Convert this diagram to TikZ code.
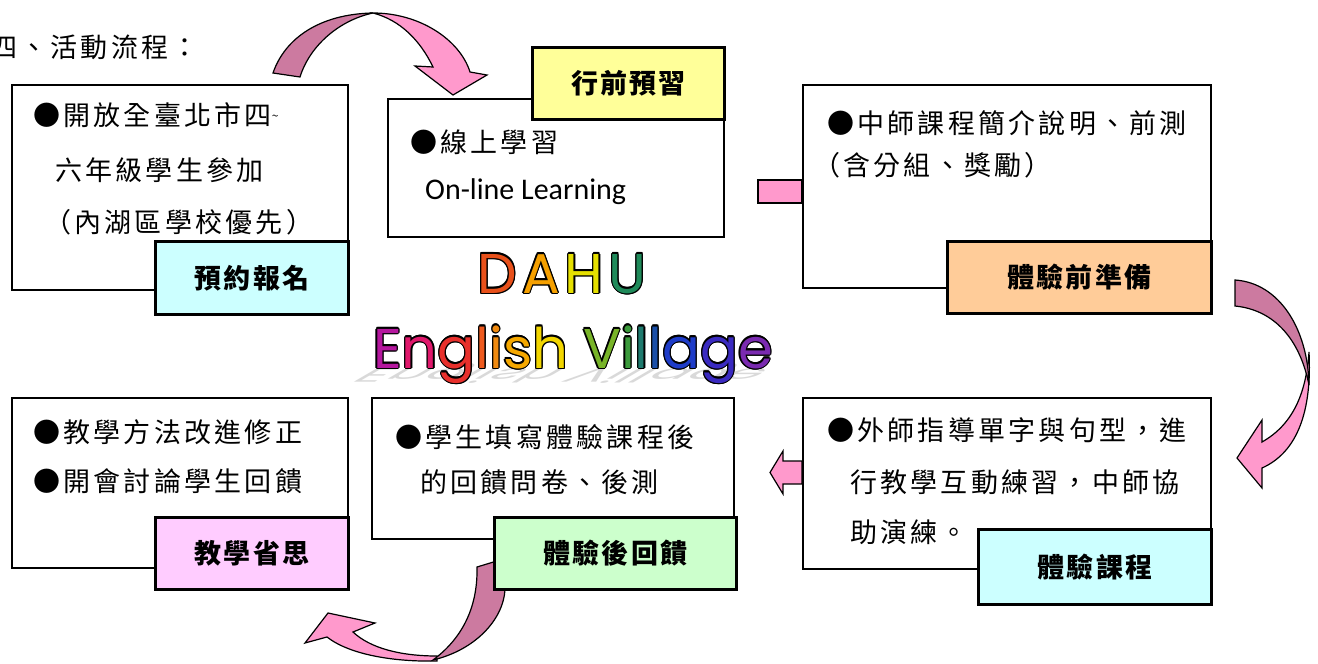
\documentclass[tikz,border=0pt]{standalone}
\usepackage{fontspec}
\newfontfamily\cjk[LetterSpace=12]{Noto Sans CJK TC}
\newfontfamily\cjkl[LetterSpace=8]{Noto Sans CJK TC}
\newfontfamily\carl{Carlito}
\newfontfamily\logofont{Poppins}
\definecolor{darkpink}{HTML}{CC7AA0}
\definecolor{lightpink}{HTML}{FF99CC}
\definecolor{labcyan}{HTML}{CCFFFF}
\definecolor{labyellow}{HTML}{FFFF99}
\definecolor{laborange}{HTML}{FFCC99}
\definecolor{labgreen}{HTML}{CCFFCC}
\definecolor{labmagenta}{HTML}{FFCCFF}
\definecolor{cD}{HTML}{E8501A}
\definecolor{cA}{HTML}{F5A000}
\definecolor{cH}{HTML}{E6E000}
\definecolor{cU}{HTML}{1F8A5A}
\definecolor{e1}{HTML}{B5179E}
\definecolor{e2}{HTML}{E0186C}
\definecolor{e3}{HTML}{E8302C}
\definecolor{e4}{HTML}{EE5A1E}
\definecolor{e5}{HTML}{F08A10}
\definecolor{e6}{HTML}{F5A800}
\definecolor{e7}{HTML}{F2D600}
\definecolor{v1}{HTML}{78B428}
\definecolor{v2}{HTML}{3C9A3C}
\definecolor{v3}{HTML}{1E7A6E}
\definecolor{v4}{HTML}{1A4FA8}
\definecolor{v5}{HTML}{1E3CC8}
\definecolor{v6}{HTML}{3A2AC0}
\definecolor{v7}{HTML}{7A2AB0}
\newif\ifoutl
\newcommand\logoch[2]{\ifoutl#2\else\textcolor{#1}{#2}\fi}
\newcommand\dahutext{\logoch{cD}{D}\hspace{5pt}\logoch{cA}{A}\hspace{5pt}\logoch{cH}{H}\hspace{5pt}\logoch{cU}{U}}
\newcommand\villtext{\logoch{e1}{E}\logoch{e2}{n}\logoch{e3}{g}\logoch{e4}{l}\logoch{e5}{i}\logoch{e6}{s}\logoch{e7}{h} \logoch{v1}{V}\logoch{v2}{i}\logoch{v3}{l}\logoch{v4}{l}\logoch{v5}{a}\logoch{v6}{g}\logoch{v7}{e}}
\begin{document}
\begin{tikzpicture}[x=1pt,y=-1pt,
  box/.style={draw=black, line width=1.6pt, fill=white, inner sep=0pt, anchor=north west},
  lab/.style={draw=black, line width=3pt, inner sep=0pt, anchor=north west, font=\cjkl\bfseries\fontsize{27}{27}\selectfont},
  txt/.style={anchor=base west, inner sep=0pt, font=\cjk\fontsize{27}{27}\selectfont},
  arrdark/.style={fill=darkpink, draw=black, line width=1.2pt, line join=miter},
  arrlight/.style={fill=lightpink, draw=black, line width=1.2pt, line join=miter},
  logo/.style={anchor=base, inner sep=0pt, font=\logofont\fontsize{56}{56}\selectfont}]
\useasboundingbox (0,0) rectangle (1318,664);
\fill[white] (0,0) rectangle (1318,664);

% curved arrows (behind boxes)
\draw[arrlight] (373,13) .. controls (420,13) and (460,40) .. (470,72) -- (487,75) -- (453,95) -- (415,66) -- (433,67) .. controls (420,40) and (400,20) .. (373,13) -- cycle;
\draw[arrdark] (273,73) .. controls (285,38) and (320,14) .. (373,13) .. controls (340,20) and (310,45) .. (300,77) -- cycle;

\draw[arrlight] (1309,352) .. controls (1312,410) and (1298,452) .. (1262,468) -- (1262,488) -- (1237,458) -- (1262,420) -- (1262,442) .. controls (1292,425) and (1306,395) .. (1309,352) -- cycle;
\draw[arrdark] (1235,280) .. controls (1280,283) and (1308,330) .. (1309,385) .. controls (1300,340) and (1275,310) .. (1235,306) -- cycle;

\draw[arrlight] (437,661) .. controls (395,662) and (350,655) .. (327,637) -- (305,643) -- (328,613) -- (375,623) -- (353,632) .. controls (370,648) and (400,656) .. (437,656) -- cycle;
\draw[arrdark] (477,567) -- (500,560) -- (505,590) .. controls (503,620) and (475,650) .. (433,660) .. controls (460,640) and (478,610) .. (477,567) -- cycle;

% straight block arrows
\draw[arrlight] (758,180) rectangle (802,203);
\draw[arrlight] (802,461) -- (783,461) -- (783,451) -- (770,472.5) -- (783,494) -- (783,484) -- (802,484) -- cycle;

% title
\node[txt] (title) at (-10,57) {四、活動流程：};

% boxes
\node[box, minimum width=336pt, minimum height=205pt] (b1) at (11,84) {};
\node[box, minimum width=336pt, minimum height=138pt] (b2) at (387,98) {};
\node[box, minimum width=408pt, minimum height=203pt] (b3) at (802,84) {};
\node[box, minimum width=408pt, minimum height=171pt] (b4) at (802,397) {};
\node[box, minimum width=362pt, minimum height=141pt] (b5) at (371,397) {};
\node[box, minimum width=336pt, minimum height=170pt] (b6) at (11,397) {};

% labels
\node[lab, fill=labcyan, minimum width=193pt, minimum height=73pt] (l1) at (154,240) {預約報名};
\node[lab, fill=labyellow, minimum width=192pt, minimum height=72pt] (l2) at (531,46) {行前預習};
\node[lab, fill=laborange, minimum width=264pt, minimum height=72pt] (l3) at (946,240) {體驗前準備};
\node[lab, fill=labcyan, minimum width=233pt, minimum height=75pt] (l4) at (977,528) {體驗課程};
\node[lab, fill=labgreen, minimum width=242pt, minimum height=72pt] (l5) at (493,516) {體驗後回饋};
\node[lab, fill=labmagenta, minimum width=193pt, minimum height=72pt] (l6) at (154,516) {教學省思};

% texts
\node[txt] (t1a) at (33,125) {●開放全臺北市四\raisebox{5pt}{\fontsize{12}{12}\selectfont\textasciitilde}};
\node[txt] (t1b) at (55,180) {六年級學生參加};
\node[txt] (t1c) at (44,232) {（內湖區學校優先）};
\node[txt] (t2a) at (410,152) {●線上學習};
\node[anchor=base west, inner sep=0pt, font=\carl\fontsize{30}{30}\selectfont] (t2b) at (425,199) {On-line Learning};
\node[txt] (t3a) at (827,133) {●中師課程簡介說明、前測};
\node[txt] (t3b) at (813,175) {（含分組、獎勵）};
\node[txt] (t4a) at (827,440) {●外師指導單字與句型，進};
\node[txt] (t4b) at (850,492) {行教學互動練習，中師協};
\node[txt] (t4c) at (850,542) {助演練。};
\node[txt] (t5a) at (395,447) {●學生填寫體驗課程後};
\node[txt] (t5b) at (420,492) {的回饋問卷、後測};
\node[txt] (t6a) at (33,442) {●教學方法改進修正};
\node[txt] (t6b) at (33,491) {●開會討論學生回饋};

% logo
\begin{scope}[shift={(573,368)}, yscale=-0.35, xslant=-0.6]
\node[logo, transform shape, text=gray!30] (shadow) at (0,0) {\outltrue\villtext};
\end{scope}
\foreach \a in {0,30,...,330} {
  \node[logo, text=black, shift={(\a:1.2pt)}] (dahuo\a) at (562,293) {\outltrue\dahutext};
  \node[logo, text=black, shift={(\a:1.2pt)}] (villo\a) at (573,368) {\outltrue\villtext};
}
\node[logo] (dahu) at (562,293) {\dahutext};
\node[logo] (vill) at (573,368) {\villtext};
\end{tikzpicture}
\end{document}
